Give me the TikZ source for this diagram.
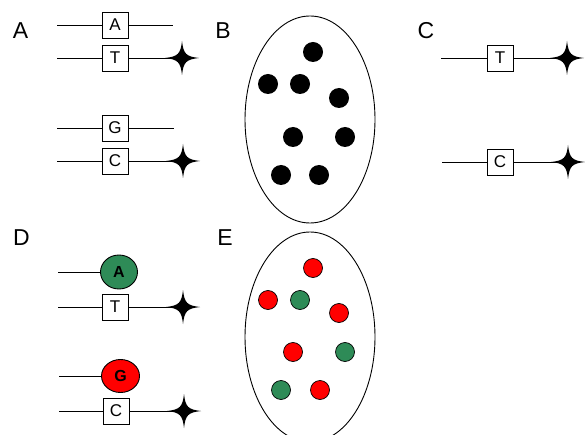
\documentclass[tikz,border=0pt]{standalone}
\usepackage{fontspec}
\setmainfont{Liberation Sans}
\usetikzlibrary{shapes.geometric}
\definecolor{dgreen}{RGB}{46,139,87}
\definecolor{dred}{RGB}{255,0,0}
\tikzset{
  base/.style={draw=black, line width=0.9pt, fill=white, minimum width=26pt, minimum height=26pt, inner sep=0pt, font=\fontsize{17}{17}\selectfont},
  conn/.style={draw=black, line width=0.9pt},
  panel/.style={font=\fontsize{23}{23}\selectfont, inner sep=0pt},
  bead/.style={ellipse, draw=black, line width=0.9pt, minimum width=37pt, minimum height=34pt, inner sep=0pt, font=\bfseries\fontsize{16}{16}\selectfont},
  blackdot/.style={circle, fill=black, minimum size=20pt, inner sep=0pt},
  reddot/.style={circle, fill=dred, draw=black, line width=0.7pt, minimum size=19pt, inner sep=0pt},
  greendot/.style={circle, fill=dgreen, draw=black, line width=0.7pt, minimum size=19pt, inner sep=0pt},
  blob/.style={ellipse, draw=black, line width=0.9pt, inner sep=0pt},
  fourstar/.pic={\fill[black] (0,-17) .. controls (1.5,-4) and (4,-1.5) .. (17,0) .. controls (4,1.5) and (1.5,4) .. (0,17) .. controls (-1.5,4) and (-4,1.5) .. (-17,0) .. controls (-4,-1.5) and (-1.5,-4) .. cycle;}
}
\begin{document}
\begin{tikzpicture}[x=1pt,y=-1pt]
\useasboundingbox (0,0) rectangle (585,435);
% labels
\node[panel] (lA) at (20.5,31) {A};
\node[panel] (lB) at (223,31) {B};
\node[panel] (lC) at (426,31) {C};
\node[panel] (lD) at (21.5,238) {D};
\node[panel] (lE) at (225,238) {E};

% Panel A
\coordinate (a1l) at (57,25); \coordinate (a1r) at (173,25);
\node[base] (bA) at (115,25) {A};
\draw[conn] (a1l) -- (bA) -- (a1r);
\coordinate (a2l) at (57,58); \coordinate (sA1) at (182,58);
\node[base] (bT) at (115,58) {T};
\draw[conn] (a2l) -- (bT) -- (sA1);
\pic at (sA1) {fourstar};

\coordinate (a3l) at (57,128); \coordinate (a3r) at (174,128);
\node[base] (bG) at (115,128) {G};
\draw[conn] (a3l) -- (bG) -- (a3r);
\coordinate (a4l) at (57,161); \coordinate (sA2) at (183,161);
\node[base] (bC) at (115,161) {C};
\draw[conn] (a4l) -- (bC) -- (sA2);
\pic at (sA2) {fourstar};

% Panel B
\node[blob, minimum width=130pt, minimum height=207pt] (eB) at (310,119.5) {};
\foreach \n/\x/\y in {1/313/52,2/268/84,3/300/84,4/339/98,5/293/137,6/345/137,7/281/175,8/319/175}
  \node[blackdot] (dB\n) at (\x,\y) {};

% Panel C
\coordinate (c1l) at (441,58); \coordinate (sC1) at (567,58);
\node[base] (cT) at (500,58) {T};
\draw[conn] (c1l) -- (cT) -- (sC1);
\pic at (sC1) {fourstar};
\coordinate (c2l) at (442,162); \coordinate (sC2) at (568,162);
\node[base] (cC) at (500,162) {C};
\draw[conn] (c2l) -- (cC) -- (sC2);
\pic at (sC2) {fourstar};

% Panel D
\coordinate (d1l) at (58,272);
\node[bead, fill=dgreen] (dA) at (119,272) {A};
\draw[conn] (d1l) -- (dA);
\coordinate (d2l) at (58,307); \coordinate (sD1) at (183,307);
\node[base] (dT) at (115,307) {T};
\draw[conn] (d2l) -- (dT) -- (sD1);
\pic at (sD1) {fourstar};

\coordinate (d3l) at (59,376);
\node[bead, fill=dred, minimum width=38pt, minimum height=33pt] (dG) at (120.5,376) {G};
\draw[conn] (d3l) -- (dG);
\coordinate (d4l) at (59,411); \coordinate (sD2) at (184,411);
\node[base] (dC) at (116,411) {C};
\draw[conn] (d4l) -- (dC) -- (sD2);
\pic at (sD2) {fourstar};

% Panel E
\node[blob, minimum width=130pt, minimum height=210pt] (eE) at (310,337) {};
\node[reddot] (e1) at (313,268) {};
\node[reddot] (e2) at (268,300) {};
\node[greendot] (e3) at (300,300) {};
\node[reddot] (e4) at (339,313) {};
\node[reddot] (e5) at (293,352) {};
\node[greendot] (e6) at (345,352) {};
\node[greendot] (e7) at (281,390) {};
\node[reddot] (e8) at (320,390) {};
\end{tikzpicture}
\end{document}
